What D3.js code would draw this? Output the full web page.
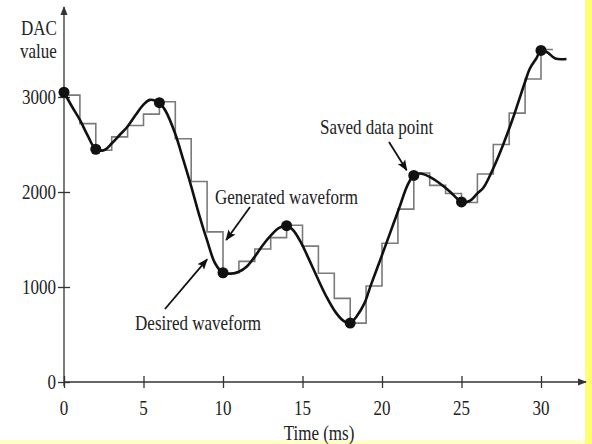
<!DOCTYPE html>
<html><head><meta charset="utf-8">
<script src="https://cdn.jsdelivr.net/npm/d3@7"></script>
<style>body{margin:0;background:#fff}svg{display:block}text{font-family:"Liberation Serif","Times New Roman",serif;fill:#222}</style>
</head><body><svg id="c" width="592" height="444"></svg>
<script>
// ---- data ----
const xTicks = [0,5,10,15,20,25,30];
const yTicks = [0,1000,2000,3000];
const xLabel = "Time (ms)";
const yLabel = ["DAC","value"];
// Desired waveform (smooth curve)
const curveT = [0,0.5,1,1.5,2,2.5,3,3.5,4,4.5,5,5.4,6,6.4,7,7.5,8,8.5,9,9.5,10,10.5,11,11.5,12,12.5,13,13.5,14,14.4,14.9,15.3,15.9,16.5,17.1,17.6,18,18.4,18.9,19.3,19.9,20.5,21.1,21.6,22,22.4,23,23.6,24.3,24.7,25,25.5,26,26.4,27,27.6,28.2,28.6,29,29.3,29.7,30,30.4,30.9,31.6];
const curveV = [3050,2900,2760,2590,2450,2440,2510,2600,2690,2810,2920,2970,2935,2850,2610,2340,2060,1760,1490,1250,1150,1140,1160,1215,1320,1440,1540,1620,1645,1600,1470,1330,1110,900,730,640,620,690,830,1020,1290,1565,1840,2070,2175,2195,2160,2095,2000,1935,1895,1905,1985,2050,2250,2490,2760,2960,3160,3300,3405,3490,3470,3405,3400];
// Generated waveform (zero-order hold, 1 ms steps)
const stepT = [0,1,2,3,4,5,6,7,8,9,10,11,12,13,14,15,16,17,18,19,20,21,22,23,24,25,26,27,28,29,30];
const stepV = [3020,2720,2440,2580,2700,2820,2950,2560,2110,1580,1150,1270,1400,1520,1650,1430,1145,880,620,1010,1460,1820,2200,2070,1985,1890,2190,2500,2830,3190,3500];
const stepEnd = 30.75;
// Saved data points
const savedT = [0,2,6,10,14,18,22,25,30];
const savedV = [3050,2450,2940,1150,1645,620,2175,1895,3490];
// annotations: label, text anchor (t,v), arrow from (t,v) to (t,v)
const annLabels = ["Saved data point","Generated waveform","Desired waveform"];
const annText = [[16.1,2610],[9.5,1874],[4.47,547]];
const annFrom = [[20.44,2526],[11.7,1842],[6.35,768]];
const annTo = [[21.55,2230],[10.2,1495],[9.0,1290]];

// ---- chart ----
const svg = d3.select("#c");
svg.append("rect").attr("x",585).attr("y",0).attr("width",7).attr("height",444).attr("fill","#ffff70");
svg.append("rect").attr("x",0).attr("y",440).attr("width",585).attr("height",4).attr("fill","#ffffc8");

const x = d3.scaleLinear().domain([0,30]).range([64,541]);
const y = d3.scaleLinear().domain([0,3000]).range([382,97]);
const axisCol = "#333";
const defs = svg.append("defs");
defs.append("marker").attr("id","ah").attr("viewBox","0 0 10 10").attr("refX",9).attr("refY",5)
  .attr("markerWidth",9).attr("markerHeight",9).attr("markerUnits","userSpaceOnUse").attr("orient","auto")
  .append("path").attr("d","M0,1 L10,5 L0,9 Z").attr("fill",axisCol);
defs.append("marker").attr("id","ah2").attr("viewBox","0 0 10 10").attr("refX",9).attr("refY",5)
  .attr("markerWidth",11).attr("markerHeight",11).attr("markerUnits","userSpaceOnUse").attr("orient","auto")
  .append("path").attr("d","M0,1 L10,5 L0,9 L2,5 Z").attr("fill","#111");

// axes lines with arrows
svg.append("line").attr("x1",x(0)).attr("y1",y(0)+4).attr("x2",x(0)).attr("y2",7)
  .attr("stroke",axisCol).attr("stroke-width",1.3).attr("marker-end","url(#ah)");
svg.append("line").attr("x1",x(0)).attr("y1",y(0)).attr("x2",586).attr("y2",y(0))
  .attr("stroke",axisCol).attr("stroke-width",1.3).attr("marker-end","url(#ah)");

// ticks via d3 axes
const gx = svg.append("g").attr("transform",`translate(0,${y(0)})`)
  .call(d3.axisBottom(x).tickValues(xTicks).tickSize(6).tickFormat(""));
gx.select(".domain").remove();
gx.selectAll(".tick line").attr("y1",-6).attr("y2",6).attr("stroke",axisCol).attr("stroke-width",1.3);
const gy = svg.append("g").attr("transform",`translate(${x(0)},0)`)
  .call(d3.axisLeft(y).tickValues(yTicks).tickSize(6).tickFormat(""));
gy.select(".domain").remove();
gy.selectAll(".tick line").attr("x1",-6).attr("x2",6).attr("stroke",axisCol).attr("stroke-width",1.3);

const fs = 17, sy = 1.25;
function label(txt, px, py, anchor){
  svg.append("text").attr("transform",`translate(${px},${py}) scale(1,${sy})`)
    .attr("text-anchor",anchor).attr("font-size",fs).text(txt);
}
xTicks.forEach(t=>label(String(t), x(t), 415, "middle"));
yTicks.forEach(v=>label(String(v), x(0)-8, y(v)+7, "end"));
label(xLabel, 319, 440, "middle");
label(yLabel[0], 21, 35, "start");
label(yLabel[1], 20, 58, "start");

// staircase
const stepData = stepT.map((t,i)=>[t,stepV[i]]).concat([[stepEnd, stepV[stepV.length-1]]]);
svg.append("path").datum(stepData)
  .attr("d", d3.line().x(d=>x(d[0])).y(d=>y(d[1])).curve(d3.curveStepAfter))
  .attr("fill","none").attr("stroke","#7a7a7a").attr("stroke-width",1.6);

// smooth curve
const cData = curveT.map((t,i)=>[t,curveV[i]]);
svg.append("path").datum(cData)
  .attr("d", d3.line().x(d=>x(d[0])).y(d=>y(d[1])).curve(d3.curveCatmullRom.alpha(0.5)))
  .attr("fill","none").attr("stroke","#111").attr("stroke-width",2.6).attr("stroke-linejoin","round");

// dots
svg.selectAll("circle.pt").data(savedT.map((t,i)=>[t,savedV[i]])).enter().append("circle")
  .attr("cx",d=>x(d[0])).attr("cy",d=>y(d[1])).attr("r",5.5).attr("fill","#111");

// annotations
annLabels.forEach((s,i)=>{
  label(s, x(annText[i][0]), y(annText[i][1]), "start");
  svg.append("line").attr("x1",x(annFrom[i][0])).attr("y1",y(annFrom[i][1]))
    .attr("x2",x(annTo[i][0])).attr("y2",y(annTo[i][1]))
    .attr("stroke","#111").attr("stroke-width",1.8).attr("marker-end","url(#ah2)");
});
</script></body></html>
